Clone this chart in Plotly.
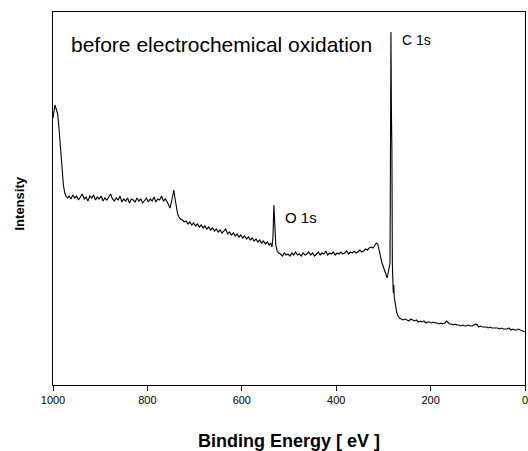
import plotly.graph_objects as go

# Binding energy (eV) and intensity (arbitrary units)
energy = [
    1000, 998, 996, 994, 992, 990, 987, 984, 981, 978, 975, 972, 969,
    966, 962, 958, 954, 950, 946, 942, 938, 934, 930, 926, 922, 918, 914, 910,
    906, 902, 898, 894, 890, 886, 882, 878, 874, 870, 866, 862, 858, 854, 850,
    846, 842, 838, 834, 830, 826, 822, 818, 814, 810, 806, 802, 798, 794, 790,
    786, 782, 778, 774, 770, 766, 762, 758, 755, 752, 749, 746, 744, 742, 739,
    736, 733, 730, 726, 722,
    718, 714, 710, 706, 702, 698, 694, 690, 686, 682, 678, 674, 670, 666, 662,
    658, 654, 650, 646, 642, 638, 634, 630, 626, 622, 618, 614, 610, 606, 602,
    598, 594, 590, 586, 582, 578, 574, 570, 566, 562, 558, 554, 550, 546, 542,
    539, 536, 534, 532, 530, 528, 525, 522,
    518, 514, 510, 506, 502, 498, 494, 490, 486, 482, 478, 474, 470, 466, 462,
    458, 454, 450, 446, 442, 438, 434, 430, 426, 422, 418, 414, 410, 406, 402,
    398, 394, 390, 386, 382, 378, 374, 370, 366, 362, 358, 354, 350, 346, 342,
    338, 334, 330, 326, 322, 318, 315, 312, 309, 306, 303, 300, 297, 294, 292,
    290, 288, 286, 285, 284, 283, 282, 281, 280, 279, 278, 277, 275, 272, 269,
    266, 262, 258, 254, 250, 246, 242, 238, 234, 230, 226, 222, 218, 214, 210,
    206, 202, 198, 194, 190, 186, 182, 178, 174, 170, 166, 163, 160, 156, 152,
    148, 144, 140, 136, 132, 128, 124, 120, 116, 112, 108, 104, 101, 98, 94,
    90, 86, 82, 78, 74, 70, 66, 62, 58, 54, 50, 46, 42, 38, 34, 30, 26, 22,
    18, 14, 10, 6, 2, 0,
]
intensity = [
    267, 275, 280, 277, 273, 271, 255, 235, 215, 200, 192, 188, 187,
    189, 186, 190, 187, 189, 185, 188, 191, 186, 188, 184, 189, 187, 190, 185,
    188, 186, 189, 184, 187, 185, 188, 191, 186, 184, 187, 185, 189, 183, 186,
    184, 187, 182, 186, 185, 183, 187, 184, 186, 182, 185, 187, 183, 186, 184,
    188, 183, 186, 185, 189, 184, 186, 183, 180, 177, 183, 192, 195, 188, 178,
    171, 168, 166, 165, 163,
    164, 161, 163, 160, 162, 159, 161, 158, 160, 157, 159, 156, 158, 155, 157,
    154, 156, 153, 155, 152, 154, 156, 151, 153, 150, 152, 149, 151, 148, 150,
    147, 149, 146, 148, 145, 147, 144, 146, 143, 145, 142, 144, 141, 143, 140,
    142, 138, 148, 180, 162, 140, 134, 132,
    131, 129, 132, 130, 131, 129, 132, 130, 133, 130, 131, 129, 132, 130, 131,
    133, 130, 132, 129, 131, 133, 130, 132, 131, 134, 130, 132, 131, 133, 130,
    132, 131, 133, 131, 132, 134, 131, 133, 132, 134, 132, 133, 135, 133, 134,
    136, 135, 137, 138, 137, 140, 142, 141, 134, 128, 122, 118, 113, 108, 107,
    112, 118, 122, 232, 353, 272, 236, 120, 106, 92, 100, 88, 80, 73, 69,
    67, 66, 65, 66, 65, 64, 66, 65, 64, 65, 63, 64, 63, 64, 62,
    63, 63, 62, 63, 62, 62, 61, 62, 61, 62, 64, 62, 61, 61, 60,
    61, 60, 60, 59, 60, 59, 59, 60, 59, 59, 60, 61, 60, 58, 59,
    58, 58, 58, 57, 58, 57, 57, 57, 57, 56, 57, 56, 56, 56, 57, 55, 56, 55,
    55, 56, 55, 54, 53, 53,
]

x_ticks = [1000, 800, 600, 400, 200, 0]
x_tick_text = ["1000", "800", "600", "400", "200", "0"]

FONT = "Liberation Sans, Arial, sans-serif"

fig = go.Figure()
fig.add_trace(go.Scatter(
    x=energy, y=intensity, mode="lines",
    line=dict(color="black", width=1.1),
    showlegend=False, hoverinfo="skip",
))

fig.update_layout(
    width=528, height=451,
    margin=dict(l=53, r=3, t=12, b=66),
    paper_bgcolor="white", plot_bgcolor="white",
    font=dict(family=FONT, color="black"),
    xaxis=dict(
        range=[1000, 0], tickvals=x_ticks, ticktext=x_tick_text,
        ticks="outside", ticklen=5, tickwidth=1, tickcolor="black",
        tickfont=dict(size=11, family=FONT, color="black"),
        ticklabeloverflow="allow", automargin=False,
        showline=True, linecolor="black", linewidth=1, mirror=True,
        showgrid=False, zeroline=False,
    ),
    yaxis=dict(
        range=[0, 373], showticklabels=False, ticks="", automargin=False,
        showline=True, linecolor="black", linewidth=1, mirror=True,
        showgrid=False, zeroline=False,
    ),
    annotations=[
        dict(text="before electrochemical oxidation", x=966, y=341,
             xref="x", yref="y", xanchor="left", yanchor="middle",
             showarrow=False, font=dict(size=21, family=FONT, color="black")),
        dict(text="C 1s", x=265, y=345, xref="x", yref="y",
             xanchor="left", yanchor="middle", showarrow=False,
             font=dict(size=14, family=FONT, color="black")),
        dict(text="O 1s", x=513, y=168, xref="x", yref="y",
             xanchor="left", yanchor="middle", showarrow=False,
             font=dict(size=15, family=FONT, color="black")),
        dict(text="<b>Binding Energy [ eV ]</b>", x=0.5, y=0,
             xref="paper", yref="paper", xanchor="center", yanchor="middle",
             yshift=-56, showarrow=False,
             font=dict(size=18, family=FONT, color="black")),
        dict(text="<b>Intensity</b>", x=0, y=0.5, xref="paper", yref="paper",
             xanchor="center", yanchor="middle", xshift=-34, yshift=-5,
             textangle=-90, showarrow=False,
             font=dict(size=13, family=FONT, color="black")),
    ],
)

fig.write_html(
    "out.html",
    config={"displayModeBar": False},
    post_script="document.body.style.margin='0';document.body.style.overflow='hidden';",
)
